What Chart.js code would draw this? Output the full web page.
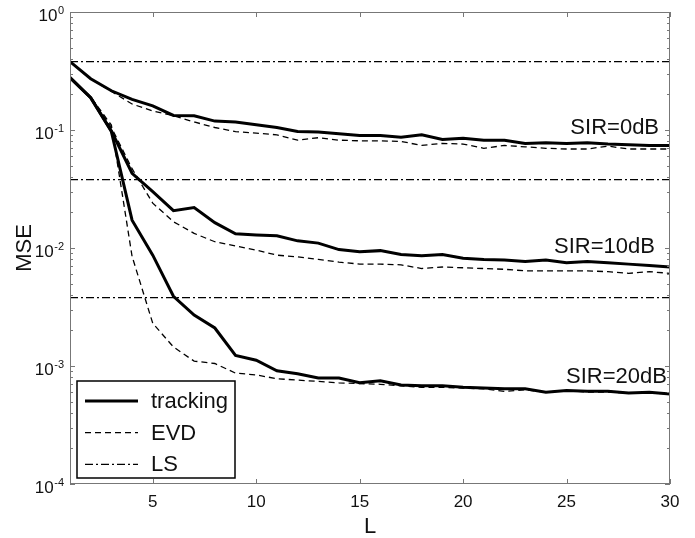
<!DOCTYPE html>
<html>
<head>
<meta charset="utf-8">
<script src="https://cdn.jsdelivr.net/npm/chart.js@4.4.1/dist/chart.umd.min.js"></script>
<style>
  body { margin: 0; background: #fff; }
  canvas { display: block; }
</style>
</head>
<body>
<canvas id="mseChart" width="695" height="538"></canvas>
<script>
// L = 1..30
const lValues = [1, 2, 3, 4, 5, 6, 7, 8, 9, 10, 11, 12, 13, 14, 15,
                 16, 17, 18, 19, 20, 21, 22, 23, 24, 25, 26, 27, 28, 29, 30];

// SIR = 0 dB
const tracking0 = [0.38, 0.272, 0.215, 0.182, 0.160, 0.133, 0.132, 0.119, 0.117, 0.111,
                   0.105, 0.097, 0.096, 0.093, 0.090, 0.090, 0.087, 0.091, 0.083, 0.085,
                   0.082, 0.082, 0.077, 0.078, 0.077, 0.078, 0.076, 0.075, 0.074, 0.074];
const evd0 = [0.38, 0.272, 0.212, 0.166, 0.145, 0.132, 0.117, 0.105, 0.097, 0.094,
              0.091, 0.082, 0.086, 0.082, 0.081, 0.081, 0.080, 0.074, 0.077, 0.076,
              0.070, 0.074, 0.072, 0.070, 0.069, 0.069, 0.073, 0.069, 0.069, 0.069];

// SIR = 10 dB
const tracking10 = [0.278, 0.188, 0.098, 0.043, 0.030, 0.0207, 0.022, 0.0164, 0.0132, 0.0129,
                    0.0127, 0.0115, 0.011, 0.0097, 0.0093, 0.0095, 0.0088, 0.0086, 0.0088, 0.0082,
                    0.0080, 0.0079, 0.0077, 0.0079, 0.0075, 0.0077, 0.0075, 0.0073, 0.0071, 0.0069];
const evd10 = [0.278, 0.19, 0.105, 0.047, 0.024, 0.0167, 0.0133, 0.0113, 0.0104, 0.0096,
               0.0087, 0.0084, 0.0080, 0.0076, 0.0073, 0.0073, 0.0072, 0.0067, 0.0069, 0.0068,
               0.0067, 0.0066, 0.0064, 0.0064, 0.0064, 0.0064, 0.0063, 0.0061, 0.0063, 0.0061];

// SIR = 20 dB
const tracking20 = [0.278, 0.188, 0.097, 0.0172, 0.0087, 0.0039, 0.0027, 0.0021, 0.00123, 0.00112,
                    0.00091, 0.00086, 0.00079, 0.00079, 0.00072, 0.00075, 0.00069, 0.00068, 0.00068, 0.00066,
                    0.00065, 0.00064, 0.00064, 0.00060, 0.00062, 0.00061, 0.00061, 0.00059, 0.00060, 0.00058];
const evd20 = [0.278, 0.19, 0.11, 0.0085, 0.0023, 0.00145, 0.0011, 0.00105, 0.00087, 0.00084,
               0.00078, 0.00076, 0.00074, 0.00072, 0.00071, 0.00070, 0.00068, 0.00066, 0.00066, 0.00065,
               0.00064, 0.00061, 0.00063, 0.00060, 0.00062, 0.00060, 0.00060, 0.00059, 0.00059, 0.00058];

// LS levels (flat)
const lsLevels = [0.38, 0.038, 0.0038];

// axis ticks
const xTicks = [5, 10, 15, 20, 25, 30];
const yExponents = [0, -1, -2, -3, -4];

// curve labels
const sirLabels = ['SIR=0dB', 'SIR=10dB', 'SIR=20dB'];
const sirLabelX = [29.47, 29.27, 29.85];
const sirLabelY = [0.0925, 0.0091, 0.00072];

const FONT = '"Liberation Sans", Arial, Helvetica, sans-serif';
const solidStyle = { borderColor: '#000', borderWidth: 3, borderDash: [] };
const dashStyle = { borderColor: '#000', borderWidth: 1.3, borderDash: [6, 4] };
const dashDotStyle = { borderColor: '#000', borderWidth: 1.3, borderDash: [8, 3, 2, 3] };

function toPoints(ys) {
  return ys.map((y, i) => ({ x: lValues[i], y: y }));
}

function makeSet(label, ys, style) {
  return Object.assign({
    label: label,
    data: toPoints(ys),
    pointRadius: 0,
    tension: 0,
    fill: false
  }, style);
}

const datasets = [
  makeSet('tracking', tracking0, solidStyle),
  makeSet('tracking', tracking10, solidStyle),
  makeSet('tracking', tracking20, solidStyle),
  makeSet('EVD', evd0, dashStyle),
  makeSet('EVD', evd10, dashStyle),
  makeSet('EVD', evd20, dashStyle)
];
lsLevels.forEach(v => {
  datasets.push(Object.assign({
    label: 'LS',
    data: [{ x: lValues[0], y: v }, { x: lValues[lValues.length - 1], y: v }],
    pointRadius: 0,
    fill: false
  }, dashDotStyle));
});

// frame, inward ticks, y labels, curve labels, legend
const decorPlugin = {
  id: 'decor',
  afterDraw(chart) {
    const ctx = chart.ctx;
    const area = chart.chartArea;
    const xs = chart.scales.x;
    const ys = chart.scales.y;
    ctx.save();

    // frame
    ctx.strokeStyle = '#777';
    ctx.lineWidth = 1;
    ctx.setLineDash([]);
    ctx.strokeRect(area.left + 0.5, area.top + 0.5, area.width - 1, area.height - 1);

    // x ticks
    ctx.beginPath();
    xTicks.forEach(v => {
      const px = Math.round(xs.getPixelForValue(v)) + 0.5;
      ctx.moveTo(px, area.bottom);
      ctx.lineTo(px, area.bottom - 5);
      ctx.moveTo(px, area.top);
      ctx.lineTo(px, area.top + 5);
    });
    // y ticks (major + minor)
    yExponents.forEach(e => {
      const base = Math.pow(10, e);
      const py = Math.round(ys.getPixelForValue(base)) + 0.5;
      ctx.moveTo(area.left, py);
      ctx.lineTo(area.left + 5, py);
      ctx.moveTo(area.right, py);
      ctx.lineTo(area.right - 5, py);
      if (e > -4) {
        for (let m = 2; m <= 9; m++) {
          const my = Math.round(ys.getPixelForValue(base * m / 10)) + 0.5;
          ctx.moveTo(area.left, my);
          ctx.lineTo(area.left + 3, my);
          ctx.moveTo(area.right, my);
          ctx.lineTo(area.right - 3, my);
        }
      }
    });
    ctx.stroke();

    // y tick labels 10^e
    ctx.fillStyle = '#111';
    ctx.textAlign = 'right';
    ctx.textBaseline = 'alphabetic';
    yExponents.forEach(e => {
      const py = ys.getPixelForValue(Math.pow(10, e));
      const expText = String(e);
      ctx.font = '11px ' + FONT;
      const expW = ctx.measureText(expText).width;
      const right = area.left - 6;
      ctx.fillText(expText, right, py + 2);
      ctx.font = '17px ' + FONT;
      ctx.fillText('10', right - expW - 0.5, py + 8.5);
    });

    // SIR labels
    ctx.font = '22px ' + FONT;
    ctx.textAlign = 'right';
    sirLabels.forEach((t, i) => {
      ctx.fillText(t, xs.getPixelForValue(sirLabelX[i]), ys.getPixelForValue(sirLabelY[i]));
    });

    // legend inside the plot, lower left
    const lx = area.left + 7, ly = area.bottom - 103, lw = 158, lh = 97;
    ctx.fillStyle = '#fff';
    ctx.fillRect(lx, ly, lw, lh);
    ctx.strokeStyle = '#000';
    ctx.lineWidth = 1.5;
    ctx.strokeRect(lx, ly, lw, lh);
    const entries = [
      { text: 'tracking', style: solidStyle },
      { text: 'EVD', style: dashStyle },
      { text: 'LS', style: dashDotStyle }
    ];
    ctx.font = '22px ' + FONT;
    ctx.textAlign = 'left';
    ctx.textBaseline = 'middle';
    entries.forEach((en, i) => {
      const cy = ly + 20 + i * 31.7;
      ctx.strokeStyle = en.style.borderColor;
      ctx.lineWidth = en.style.borderWidth;
      ctx.setLineDash(en.style.borderDash);
      ctx.beginPath();
      ctx.moveTo(lx + 8, cy);
      ctx.lineTo(lx + 61, cy);
      ctx.stroke();
      ctx.fillStyle = '#111';
      ctx.fillText(en.text, lx + 74, cy + 1);
    });

    ctx.restore();
  }
};

const ctx = document.getElementById('mseChart').getContext('2d');
new Chart(ctx, {
  type: 'line',
  data: { datasets: datasets },
  options: {
    responsive: false,
    animation: false,
    devicePixelRatio: 1,
    layout: { padding: { left: 0, right: 25, top: 12, bottom: 0 } },
    plugins: {
      legend: { display: false },
      tooltip: { enabled: false }
    },
    scales: {
      x: {
        type: 'linear',
        min: 1,
        max: 30,
        afterBuildTicks(scale) {
          scale.ticks = xTicks.map(v => ({ value: v }));
        },
        afterFit(scale) { scale.height = 54; },
        grid: { display: false },
        border: { display: false },
        ticks: {
          color: '#111',
          padding: 0,
          maxRotation: 0,
          font: { family: FONT, size: 17 }
        },
        title: {
          display: true,
          text: 'L',
          color: '#111',
          padding: { top: 0, bottom: 0 },
          font: { family: FONT, size: 22, lineHeight: 1 }
        }
      },
      y: {
        type: 'logarithmic',
        min: 1e-4,
        max: 1,
        afterFit(scale) { scale.width = 70; },
        grid: { display: false },
        border: { display: false },
        ticks: { display: false },
        title: {
          display: true,
          text: 'MSE',
          color: '#111',
          padding: { top: 12, bottom: 0 },
          font: { family: FONT, size: 22 }
        }
      }
    }
  },
  plugins: [decorPlugin]
});
</script>
</body>
</html>
